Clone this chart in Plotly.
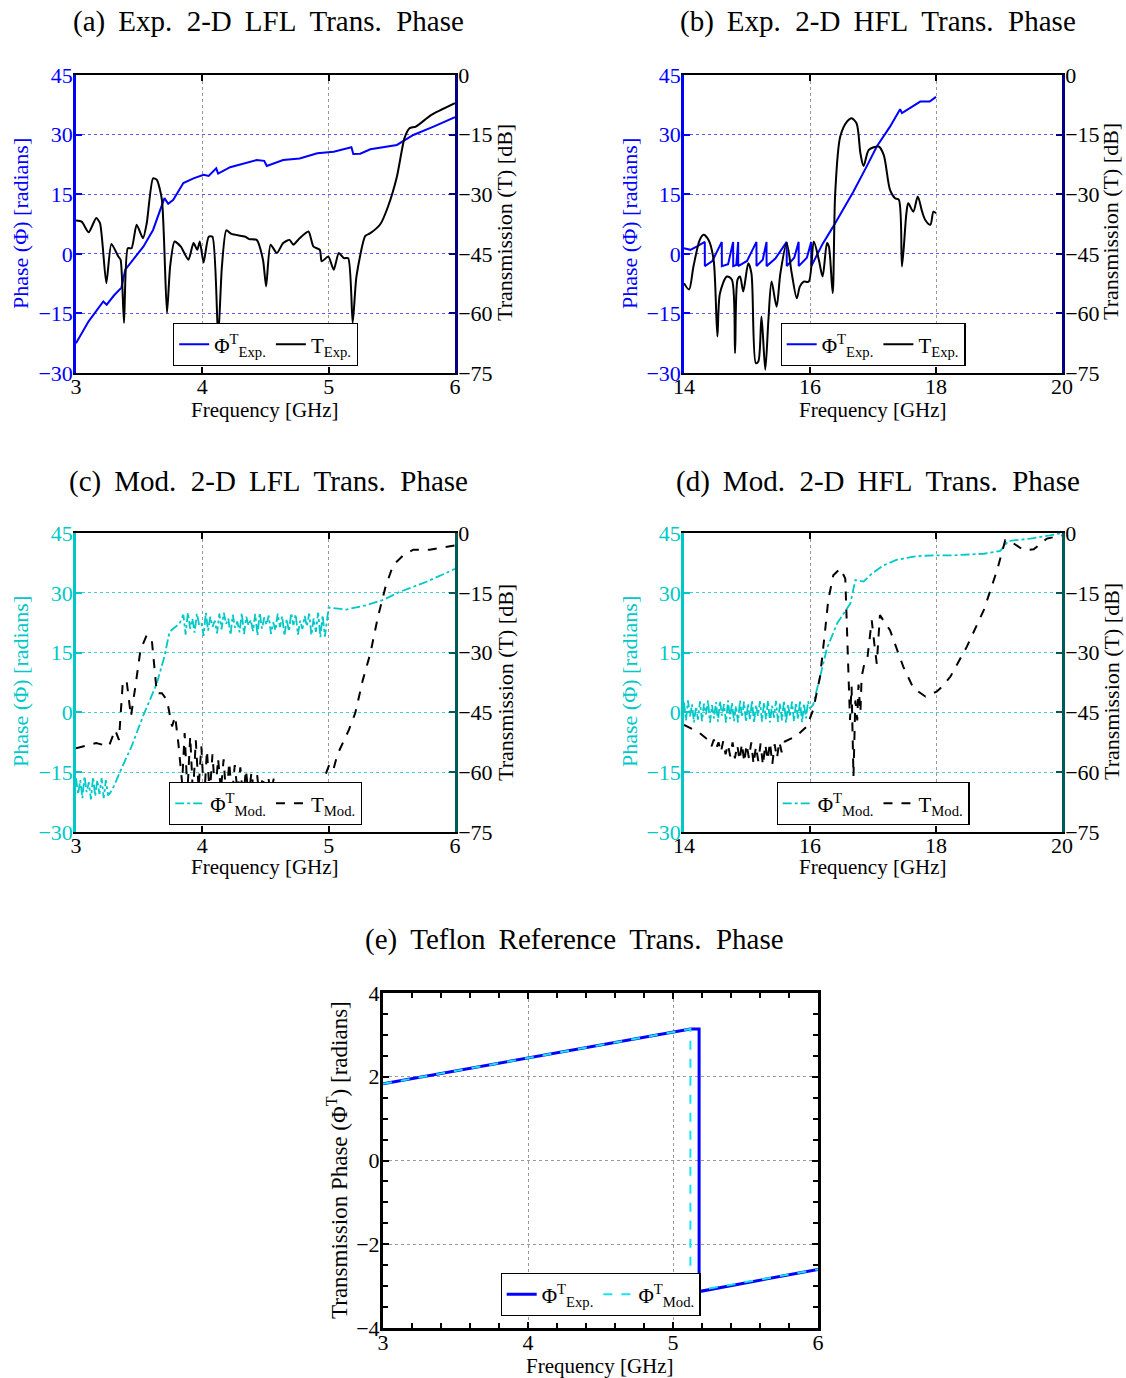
import numpy as np
import plotly.graph_objects as go

W, H = 1126, 1378
FONT = "Liberation Serif"
BLUE = "#0000ff"
CYAN = "#00c8c8"
CYAN_E = "#19e3ee"
NAVY = "#000080"
TEAL = "#005a5a"

# ---------------- (a) Exp. 2-D LFL ----------------
a_phi_f = [3.00, 3.10, 3.216, 3.243, 3.30, 3.36, 3.39, 3.454, 3.533, 3.61, 3.70, 3.73, 3.77, 3.85, 3.93,
           4.01, 4.05, 4.11, 4.125, 4.22, 4.43, 4.49, 4.51, 4.64, 4.77, 4.91, 5.04, 5.18, 5.195, 5.25,
           5.33, 5.54, 5.67, 5.83, 6.00]
a_phi = [-22.5, -17.0, -12.0, -12.8, -10.5, -8.5, -4.0, -1.5, 1.8, 6.0, 14.0, 12.6, 13.6, 17.8, 19.0,
         19.9, 19.6, 21.5, 20.2, 21.8, 23.6, 23.4, 22.1, 23.6, 24.0, 25.3, 25.7, 26.8, 25.1, 25.2,
         26.3, 27.4, 29.9, 32.0, 34.4]
a_T_f = [3.00, 3.045, 3.10, 3.16, 3.19, 3.24, 3.28, 3.335, 3.353, 3.38, 3.41, 3.44, 3.48, 3.53, 3.56,
         3.61, 3.64, 3.68, 3.72, 3.745, 3.78, 3.83, 3.89, 3.93, 3.96, 3.98, 4.01, 4.05, 4.08, 4.125,
         4.155, 4.19, 4.23, 4.34, 4.37, 4.43, 4.48, 4.505, 4.54, 4.59, 4.64, 4.69, 4.72, 4.77, 4.84,
         4.88, 4.93, 4.945, 4.997, 5.04, 5.08, 5.12, 5.155, 5.19, 5.22, 5.29, 5.33, 5.41, 5.47, 5.54,
         5.60, 5.64, 5.69, 5.81, 6.00]
a_T = [-36.6, -36.9, -39.6, -36.0, -37.3, -52.4, -42.5, -45.7, -46.5, -62.4, -43.6, -43.6, -37.7, -41.1, -37.3,
       -26.0, -26.4, -31.4, -59.9, -48.2, -41.9, -43.2, -46.5, -42.3, -44.0, -41.9, -47.2, -40.7, -40.7, -66.0,
       -48.2, -39.1, -40.0, -40.7, -41.3, -41.5, -46.5, -53.2, -42.7, -44.8, -42.3, -41.5, -42.7, -41.1, -39.4,
       -43.2, -44.0, -46.9, -45.7, -49.0, -44.8, -46.1, -46.1, -62.4, -50.7, -40.5, -39.8, -37.5, -33.1, -25.6,
       -15.9, -13.4, -13.0, -10.1, -7.1]

# ---------------- (b) Exp. 2-D HFL ----------------
b_phi_f = [14.00, 14.10, 14.20, 14.33, 14.331, 14.45, 14.60, 14.601, 14.70, 14.78, 14.781, 14.83, 14.86, 14.861,
           15.00, 15.15, 15.151, 15.25, 15.31, 15.311, 15.45, 15.63, 15.631, 15.75, 15.82, 15.821, 15.95, 16.02,
           16.021, 16.10, 16.20, 16.37, 16.69, 16.90, 17.06, 17.27, 17.43, 17.46, 17.62, 17.75, 17.90, 18.00]
b_phi = [1.4, 1.0, 1.8, 3.0, -3.1, -1.8, 3.0, -3.1, -2.6, 3.0, -3.1, -2.8, 3.0, -3.1,
         -1.8, 3.0, -3.1, -1.5, 3.0, -3.1, -1.2, 3.0, -3.1, -1.0, 3.0, -3.1, -1.0, 3.0,
         -3.1, -0.8, 2.5, 6.9, 15.7, 22.0, 27.0, 32.0, 36.4, 35.4, 37.0, 38.3, 38.3, 39.5]
b_T_f = [14.00, 14.08, 14.15, 14.25, 14.31, 14.39, 14.47, 14.53, 14.57, 14.68, 14.76, 14.81, 14.85, 14.89, 14.94,
         15.02, 15.07, 15.14, 15.18, 15.23, 15.29, 15.34, 15.39, 15.47, 15.53, 15.63, 15.71, 15.79, 15.84, 15.90,
         15.98, 16.06, 16.14, 16.20, 16.27, 16.30, 16.36, 16.40, 16.48, 16.59, 16.66, 16.74, 16.80, 16.85, 16.93,
         17.01, 17.09, 17.17, 17.27, 17.35, 17.41, 17.46, 17.53, 17.56, 17.64, 17.71, 17.78, 17.83, 17.91, 17.96,
         18.00]
b_T = [-52.4, -54.0, -48.2, -41.5, -40.2, -41.5, -46.5, -65.8, -55.0, -50.7, -51.5, -70.0, -51.5, -50.7, -54.5,
       -47.4, -49.9, -72.5, -72.1, -60.8, -74.2, -61.6, -52.0, -58.3, -49.9, -42.3, -49.9, -56.2, -53.2, -52.0,
       -52.0, -41.9, -46.5, -50.7, -42.3, -43.2, -54.9, -29.8, -15.5, -11.7, -10.9, -12.2, -19.7, -22.9, -18.9,
       -18.2, -18.0, -20.1, -28.9, -31.0, -31.4, -48.2, -34.8, -32.3, -34.4, -30.6, -34.4, -36.5, -37.7, -34.4,
       -34.8]

# ---------------- (c) Mod. 2-D LFL ----------------
c_phi_osc1_span = [3.00, 3.27]
c_phi_osc1 = [-16.5, -20.5, -17.0, -21.5, -16.0, -20.0, -17.5, -21.8, -16.2, -21.0, -17.0, -20.5,
              -16.5, -21.5, -17.0, -20.8, -20.2]
c_phi_rise_f = [3.30, 3.35, 3.44, 3.53, 3.64, 3.70, 3.74, 3.82]
c_phi_rise = [-18.5, -14.8, -8.5, -1.0, 7.3, 14.0, 20.2, 22.3]
c_phi_osc2_span = [3.85, 4.97]
c_phi_osc2 = [24.5, 19.5, 25.0, 21.0, 23.5, 20.0, 24.8, 22.0, 22.5, 19.2, 25.0, 20.5, 24.0, 21.5, 23.0, 19.8,
              24.8, 20.8, 25.0, 22.2, 23.5, 19.4, 24.5, 21.2, 22.8, 20.1, 24.9, 19.6, 24.0, 21.8, 23.2, 20.4,
              24.7, 19.3, 25.0, 21.0, 23.8, 22.0, 24.3, 19.7, 22.6, 20.6, 24.8, 21.4, 24.1, 19.2, 23.4, 20.3,
              24.9, 21.9, 24.6, 19.5, 23.0, 20.9, 24.2, 21.6, 24.8, 19.4, 23.6, 20.2, 25.0, 18.9, 24.4, 19.0]
c_phi_tail_f = [5.00, 5.14, 5.30, 5.43, 5.56, 5.77, 6.00]
c_phi_tail = [26.3, 25.8, 26.9, 28.2, 30.2, 32.7, 36.0]

c_T_f1 = [3.00, 3.16, 3.26, 3.31, 3.34, 3.37, 3.40, 3.435, 3.47, 3.51, 3.56, 3.60, 3.64, 3.68, 3.72,
          3.76, 3.785, 3.81, 3.84]
c_T1 = [-54.0, -52.7, -53.5, -49.4, -51.9, -37.7, -36.9, -46.0, -38.5, -29.4, -25.6, -26.8, -40.2, -40.2, -41.9,
        -48.5, -46.0, -52.7, -62.7]
c_T_osc_span = [3.86, 4.94]
c_T_osc = [-50.2, -65.0, -51.0, -66.0, -52.0, -64.0, -53.5, -67.0, -54.5, -65.5, -55.5, -66.0, -56.5, -64.5,
           -56.8, -67.0, -57.5, -66.0, -58.2, -65.0, -58.8, -67.0, -59.4, -66.0, -60.0, -65.5, -60.5, -67.0,
           -61.0, -66.0, -61.3, -65.0, -61.6, -66.5, -62.0, -67.0, -62.3, -66.0, -62.6, -65.5, -62.8, -67.0,
           -63.0, -66.0, -63.0, -65.0, -62.5, -66.5, -62.0, -66.0]
c_T_f2 = [4.97, 5.01, 5.04, 5.07, 5.10, 5.16, 5.21, 5.27, 5.33, 5.39, 5.45, 5.51, 5.59, 5.67, 5.80, 6.00]
c_T2 = [-61.0, -57.7, -59.0, -55.5, -53.5, -49.4, -45.2, -36.9, -30.2, -21.0, -13.5, -8.1, -5.6, -4.2, -4.2, -3.1]

# ---------------- (d) Mod. 2-D HFL ----------------
d_phi_osc_span = [14.00, 16.00]
d_phi_osc = [2.5, -2.0, 3.0, -1.0, 2.0, -2.5, 1.5, -1.8, 2.8, -2.2, 2.2, -0.5, 3.0, -2.6, 1.8, -1.5,
             2.6, -2.3, 2.9, -0.8, 2.1, -2.6, 3.0, -1.6, 2.4, -2.2, 1.6, -2.5, 3.0, -1.2, 2.7, -2.4,
             2.2, -1.9, 3.0, -2.6, 1.9, -0.9, 2.8, -2.3, 2.5, -1.7, 3.0, -2.5, 1.7, -1.3, 2.9, -2.4,
             2.3, -2.0, 3.0, -2.6, 2.0, -1.1, 2.7, -2.3, 2.5, -1.8, 3.0, -2.5, 2.2, -1.5, 2.8, 1.0]
d_phi_f2 = [16.05, 16.16, 16.27, 16.43, 16.64, 16.72, 16.85, 16.98, 17.17, 17.38, 17.70, 17.96, 18.28, 18.76,
            19.02, 19.15, 19.50, 19.81, 20.00]
d_phi2 = [1.9, 9.0, 16.1, 22.3, 27.3, 33.2, 32.8, 34.8, 36.9, 38.3, 39.2, 39.4, 39.4, 39.8,
          40.5, 43.0, 43.6, 44.4, 45.0]

d_T_f1 = [14.00, 14.12, 14.25, 14.35]
d_T1 = [-48.1, -49.2, -50.2, -51.5]
d_T_osc_span = [14.40, 15.55]
d_T_osc = [-52.0, -53.5, -51.8, -54.0, -52.5, -55.0, -52.2, -55.5, -53.0, -56.0, -52.5, -56.5, -53.2, -57.0,
           -52.8, -57.5, -53.0, -56.5, -52.5, -58.0, -53.5, -57.2, -52.8, -58.3, -53.0, -57.0, -52.5, -58.0,
           -53.0, -56.5, -52.3, -55.0]
d_T_f2 = [15.60, 15.78, 15.95, 16.05, 16.16, 16.24, 16.29, 16.37, 16.48, 16.56, 16.61, 16.635, 16.66, 16.69,
          16.72, 16.75, 16.77, 16.80, 16.82, 16.86, 16.91, 16.98, 17.03, 17.06, 17.11, 17.15, 17.27, 17.48,
          17.64, 17.83, 18.01, 18.10, 18.23, 18.49, 18.76, 18.97, 19.10, 19.23, 19.39, 19.55, 19.76, 20.00]
d_T2 = [-52.3, -51.0, -48.5, -44.4, -36.0, -24.4, -16.8, -10.6, -8.9, -11.4, -37.7, -46.9, -38.5, -61.0,
        -42.0, -47.0, -38.0, -45.0, -36.0, -33.0, -31.5, -21.9, -29.0, -32.8, -20.6, -21.5, -24.4, -33.5,
        -38.9, -41.0, -39.8, -38.5, -36.0, -28.5, -19.3, -9.3, -1.8, -2.6, -4.3, -4.1, -1.4, -0.6]

# ---------------- (e) Teflon reference ----------------
e_exp_f = [3.00, 5.12, 5.18, 5.18, 6.00]
e_exp = [1.83, 3.14, 3.14, -3.13, -2.60]
e_mod_f = [3.00, 5.12, 5.12, 5.18, 6.00]
e_mod = [1.83, 3.14, -3.14, -3.10, -2.60]

phi_ticks = [-30, -15, 0, 15, 30, 45]
T_ticks = [-75, -60, -45, -30, -15, 0]


def grid(span, vals):
    return list(np.linspace(span[0], span[1], len(vals)))


c_phi_x = grid(c_phi_osc1_span, c_phi_osc1) + c_phi_rise_f + grid(c_phi_osc2_span, c_phi_osc2) + c_phi_tail_f
c_phi_y = c_phi_osc1 + c_phi_rise + c_phi_osc2 + c_phi_tail
c_T_x = c_T_f1 + grid(c_T_osc_span, c_T_osc) + c_T_f2
c_T_y = c_T1 + c_T_osc + c_T2
d_phi_x = grid(d_phi_osc_span, d_phi_osc) + d_phi_f2
d_phi_y = d_phi_osc + d_phi2
d_T_x = d_T_f1 + grid(d_T_osc_span, d_T_osc) + d_T_f2
d_T_y = d_T1 + d_T_osc + d_T2


def px(x):
    return x / W


def py(y):
    return 1 - y / H


fig = go.Figure()

L_PHI_EXP = "Φ<sup>T</sup><sub>Exp.</sub>"
L_T_EXP = "T<sub>Exp.</sub>"
L_PHI_MOD = "Φ<sup>T</sup><sub>Mod.</sub>"
L_T_MOD = "T<sub>Mod.</sub>"

# (a)
fig.add_trace(go.Scatter(x=a_phi_f, y=a_phi, mode="lines", name=L_PHI_EXP, line=dict(color=BLUE, width=2),
                         xaxis="x", yaxis="y", legend="legend"))
fig.add_trace(go.Scatter(x=a_T_f, y=a_T, mode="lines", name=L_T_EXP,
                         line=dict(color="black", width=2, shape="spline", smoothing=0.6),
                         xaxis="x", yaxis="y2", legend="legend"))
# (b)
fig.add_trace(go.Scatter(x=b_phi_f, y=b_phi, mode="lines", name=L_PHI_EXP, line=dict(color=BLUE, width=2),
                         xaxis="x2", yaxis="y3", legend="legend2"))
fig.add_trace(go.Scatter(x=b_T_f, y=b_T, mode="lines", name=L_T_EXP,
                         line=dict(color="black", width=2, shape="spline", smoothing=0.8),
                         xaxis="x2", yaxis="y4", legend="legend2"))
# (c)
fig.add_trace(go.Scatter(x=c_phi_x, y=c_phi_y, mode="lines", name=L_PHI_MOD,
                         line=dict(color=CYAN, width=1.8, dash="dashdot"),
                         xaxis="x3", yaxis="y5", legend="legend3"))
fig.add_trace(go.Scatter(x=c_T_x, y=c_T_y, mode="lines", name=L_T_MOD,
                         line=dict(color="black", width=2, dash="dash"),
                         xaxis="x3", yaxis="y6", legend="legend3"))
# (d)
fig.add_trace(go.Scatter(x=d_phi_x, y=d_phi_y, mode="lines", name=L_PHI_MOD,
                         line=dict(color=CYAN, width=1.8, dash="dashdot"),
                         xaxis="x4", yaxis="y7", legend="legend4"))
fig.add_trace(go.Scatter(x=d_T_x, y=d_T_y, mode="lines", name=L_T_MOD,
                         line=dict(color="black", width=2, dash="dash"),
                         xaxis="x4", yaxis="y8", legend="legend4"))
# (e)
fig.add_trace(go.Scatter(x=e_exp_f, y=e_exp, mode="lines", name=L_PHI_EXP,
                         line=dict(color=BLUE, width=3), xaxis="x5", yaxis="y9", legend="legend5"))
fig.add_trace(go.Scatter(x=e_mod_f, y=e_mod, mode="lines", name=L_PHI_MOD,
                         line=dict(color=CYAN_E, width=2, dash="dash"), xaxis="x5", yaxis="y9", legend="legend5"))

tickfont = dict(family=FONT, size=22, color="black")


def xaxis(dom, rng, tv, anchor):
    return dict(domain=[px(dom[0]), px(dom[1])], anchor=anchor, range=rng, tickvals=tv,
                showline=True, linecolor="black", linewidth=2, mirror="ticks",
                ticks="inside", ticklen=6, tickwidth=1.5, tickcolor="black",
                showgrid=True, gridcolor="#9a9a9a", griddash="dot", gridwidth=1,
                zeroline=False, tickfont=tickfont, fixedrange=True, ticklabelstandoff=-7)


def yleft(dom, col, gridcol, anchor):
    return dict(domain=[py(dom[1]), py(dom[0])], anchor=anchor, range=[-30, 45], tickvals=phi_ticks,
                showline=True, linecolor=col, linewidth=2.5, ticks="inside", ticklen=6, tickwidth=1.5,
                tickcolor=col, showgrid=True, gridcolor=gridcol, griddash="dot", gridwidth=1,
                zeroline=False, tickfont=dict(family=FONT, size=22, color=col), fixedrange=True,
                ticklabelstandoff=-4)


def yright(over, col, anchor):
    return dict(overlaying=over, anchor=anchor, side="right", range=[-75, 0], tickvals=T_ticks,
                showline=True, linecolor=col, linewidth=2.5, ticks="inside", ticklen=6, tickwidth=1.5,
                tickcolor=col, showgrid=False, zeroline=False, tickfont=tickfont, fixedrange=True,
                ticklabelstandoff=-4)


BLUE_GRID = "#5a5aff"
CYAN_GRID = "#40d0d0"

layout = dict(
    width=W, height=H, margin=dict(l=0, r=0, t=0, b=0, pad=0, autoexpand=False),
    paper_bgcolor="white", plot_bgcolor="white",
    font=dict(family=FONT, size=22, color="black"),
    xaxis=xaxis((76, 455), [3, 6], [3, 4, 5, 6], "y"),
    yaxis=yleft((75, 373), BLUE, BLUE_GRID, "x"),
    yaxis2=yright("y", NAVY, "x"),
    xaxis2=xaxis((684, 1062), [14, 20], [14, 16, 18, 20], "y3"),
    yaxis3=yleft((75, 373), BLUE, BLUE_GRID, "x2"),
    yaxis4=yright("y3", NAVY, "x2"),
    xaxis3=xaxis((76, 455), [3, 6], [3, 4, 5, 6], "y5"),
    yaxis5=yleft((533, 832), CYAN, CYAN_GRID, "x3"),
    yaxis6=yright("y5", TEAL, "x3"),
    xaxis4=xaxis((684, 1062), [14, 20], [14, 16, 18, 20], "y7"),
    yaxis7=yleft((533, 832), CYAN, CYAN_GRID, "x4"),
    yaxis8=yright("y7", TEAL, "x4"),
)

x5 = xaxis((383, 818), [3, 6], [3, 4, 5, 6], "y9")
x5.update(linewidth=3, minor=dict(ticks="inside", dtick=0.2, ticklen=5, tickwidth=1.5, tickcolor="black"))
layout["xaxis5"] = x5
layout["yaxis9"] = dict(domain=[py(1328), py(993)], anchor="x5", range=[-4, 4], tickvals=[-4, -2, 0, 2, 4],
                        showline=True, linecolor="black", linewidth=3, mirror="ticks", ticks="inside",
                        ticklen=6, tickwidth=1.5, tickcolor="black", showgrid=True, gridcolor="#9a9a9a",
                        griddash="dot", gridwidth=1, zeroline=False, tickfont=tickfont, fixedrange=True,
                        ticklabelstandoff=-4,
                        minor=dict(ticks="inside", dtick=0.5, ticklen=5, tickwidth=1.5, tickcolor="black"))


def leg(cx, top):
    return dict(x=px(cx), y=py(top), xanchor="center", yanchor="top", orientation="h",
                bgcolor="white", bordercolor="black", borderwidth=1.2,
                font=dict(family=FONT, size=21, color="black"), itemwidth=30,
                tracegroupgap=0, itemclick=False, itemdoubleclick=False)


layout["legend"] = leg(265.5, 323)
layout["legend2"] = leg(873, 323)
layout["legend3"] = leg(265.5, 782)
layout["legend4"] = leg(873, 782)
layout["legend5"] = leg(600.5, 1273)

ann = []


def text(x, y, s, size=22, color="black", angle=0):
    ann.append(dict(x=px(x), y=py(y), xref="paper", yref="paper", text=s, showarrow=False,
                    xanchor="center", yanchor="middle", textangle=angle,
                    font=dict(family=FONT, size=size, color=color)))


SP = "\u00a0\u2009"
SP2 = "\u00a0\u00a0"


def title(words):
    out = words[0]
    for prev, w in zip(words[:-1], words[1:]):
        out += (SP2 if prev.endswith(".") else SP) + w
    return out


titles = [
    (268, 22, ["(a)", "Exp.", "2-D", "LFL", "Trans.", "Phase"]),
    (878, 22, ["(b)", "Exp.", "2-D", "HFL", "Trans.", "Phase"]),
    (268, 481, ["(c)", "Mod.", "2-D", "LFL", "Trans.", "Phase"]),
    (878, 481, ["(d)", "Mod.", "2-D", "HFL", "Trans.", "Phase"]),
    (574, 939, ["(e)", "Teflon", "Reference", "Trans.", "Phase"]),
]
for x, y, words in titles:
    text(x, y, title(words), size=29)

for x, y in [(265, 410), (873, 410), (265, 867), (873, 867), (600, 1366)]:
    text(x, y, "Frequency [GHz]", size=21)

text(20, 224, "Phase (Φ) [radians]", color=BLUE, angle=-90)
text(629, 224, "Phase (Φ) [radians]", color=BLUE, angle=-90)
text(20, 682, "Phase (Φ) [radians]", color=CYAN, angle=-90)
text(629, 682, "Phase (Φ) [radians]", color=CYAN, angle=-90)
text(505, 222, "Transmission (T) [dB]", angle=-90)
text(1111, 222, "Transmission (T) [dB]", angle=-90)
text(505, 682, "Transmission (T) [dB]", angle=-90)
text(1111, 682, "Transmission (T) [dB]", angle=-90)
text(337, 1160, "Transmission Phase (Φ<sup>T</sup>) [radians]", size=23, angle=-90)

layout["annotations"] = ann
layout["showlegend"] = True
fig.update_layout(**layout)

fig.write_html("out.html", config={"displayModeBar": False})
